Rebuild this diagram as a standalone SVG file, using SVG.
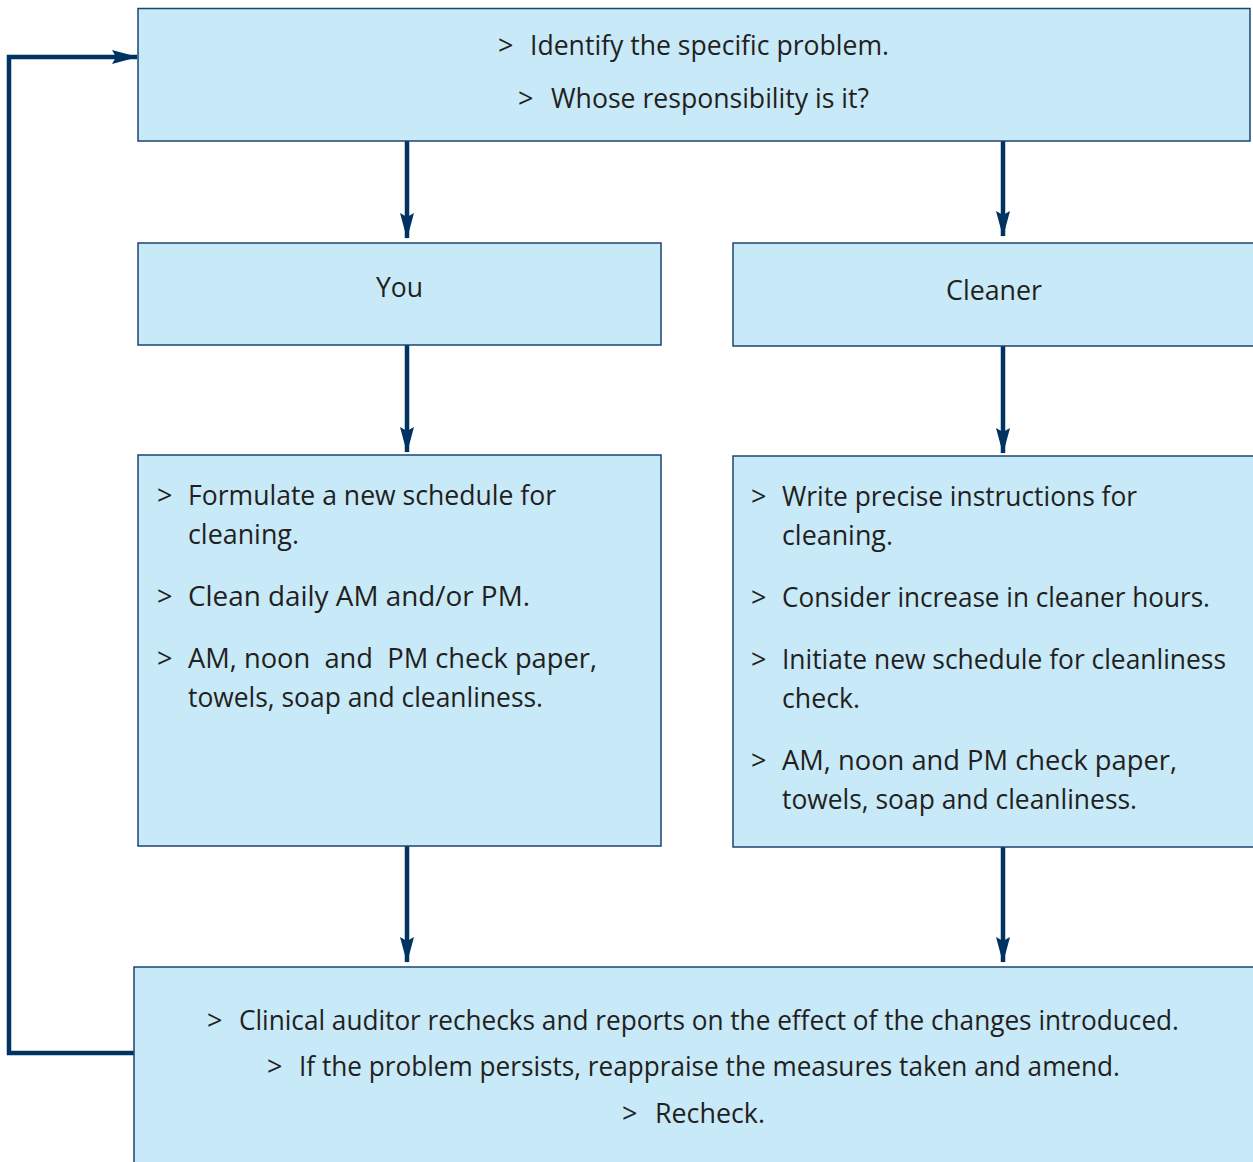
<svg xmlns="http://www.w3.org/2000/svg" width="1253" height="1162" viewBox="0 0 1253 1162">
<defs>
<style>
.box{fill:#c7e9f8;stroke:#1c4670;stroke-width:1.5}
.t{font-family:"Open Sans","Noto Sans",sans-serif;font-size:27px;fill:#231f20}
.c{fill:none;stroke:#003361;stroke-width:4.5}
.h{fill:#003361}
</style>
<marker id="ah" viewBox="0 0 26 14" refX="25" refY="7" markerWidth="26" markerHeight="14" markerUnits="userSpaceOnUse" orient="auto">
<path d="M0,0 L26,7 L0,14 L4,7 Z" class="h"/>
</marker>
</defs>
<rect width="1253" height="1162" fill="#ffffff"/>

<g id="connectors">
<line class="c" x1="407" y1="141" x2="407" y2="238" marker-end="url(#ah)"/>
<line class="c" x1="1003" y1="141" x2="1003" y2="236" marker-end="url(#ah)"/>
<line class="c" x1="407" y1="345" x2="407" y2="452" marker-end="url(#ah)"/>
<line class="c" x1="1003" y1="346" x2="1003" y2="453" marker-end="url(#ah)"/>
<line class="c" x1="407" y1="846" x2="407" y2="962" marker-end="url(#ah)"/>
<line class="c" x1="1003" y1="847" x2="1003" y2="962" marker-end="url(#ah)"/>
<polyline class="c" points="134,1053 9,1053 9,57 137,57" marker-end="url(#ah)"/>
</g>

<g id="top">
<rect class="box" x="138" y="8.5" width="1112" height="132.5"/>
<text class="t" x="498" y="55">&gt;</text>
<text class="t" x="530" y="55" textLength="359" lengthAdjust="spacingAndGlyphs">Identify the specific problem.</text>
<text class="t" x="518" y="108">&gt;</text>
<text class="t" x="551" y="108" textLength="318" lengthAdjust="spacingAndGlyphs">Whose responsibility is it?</text>
</g>

<g id="you">
<rect class="box" x="138" y="243" width="523" height="102"/>
<text class="t" x="376" y="297" textLength="47" lengthAdjust="spacingAndGlyphs">You</text>
</g>

<g id="cleaner">
<rect class="box" x="733" y="243" width="524" height="103"/>
<text class="t" x="946" y="300" textLength="96" lengthAdjust="spacingAndGlyphs">Cleaner</text>
</g>

<g id="you-actions">
<rect class="box" x="138" y="455" width="523" height="391"/>
<text class="t" x="157" y="505">&gt;</text>
<text class="t" x="188" y="505" textLength="368" lengthAdjust="spacingAndGlyphs">Formulate a new schedule for</text>
<text class="t" x="188" y="544" textLength="111" lengthAdjust="spacingAndGlyphs">cleaning.</text>
<text class="t" x="157" y="606">&gt;</text>
<text class="t" x="188" y="606" textLength="342" lengthAdjust="spacingAndGlyphs">Clean daily AM and/or PM.</text>
<text class="t" x="157" y="668">&gt;</text>
<text class="t" x="188" y="668" textLength="409" lengthAdjust="spacingAndGlyphs" xml:space="preserve">AM, noon  and  PM check paper,</text>
<text class="t" x="188" y="707" textLength="355" lengthAdjust="spacingAndGlyphs">towels, soap and cleanliness.</text>
</g>

<g id="cleaner-actions">
<rect class="box" x="733" y="456" width="524" height="391"/>
<text class="t" x="751" y="506">&gt;</text>
<text class="t" x="782" y="506" textLength="355" lengthAdjust="spacingAndGlyphs">Write precise instructions for</text>
<text class="t" x="782" y="545" textLength="111" lengthAdjust="spacingAndGlyphs">cleaning.</text>
<text class="t" x="751" y="607">&gt;</text>
<text class="t" x="782" y="607" textLength="428" lengthAdjust="spacingAndGlyphs">Consider increase in cleaner hours.</text>
<text class="t" x="751" y="669">&gt;</text>
<text class="t" x="782" y="669" textLength="444" lengthAdjust="spacingAndGlyphs">Initiate new schedule for cleanliness</text>
<text class="t" x="782" y="708" textLength="78" lengthAdjust="spacingAndGlyphs">check.</text>
<text class="t" x="751" y="770">&gt;</text>
<text class="t" x="782" y="770" textLength="395" lengthAdjust="spacingAndGlyphs">AM, noon and PM check paper,</text>
<text class="t" x="782" y="809" textLength="355" lengthAdjust="spacingAndGlyphs">towels, soap and cleanliness.</text>
</g>

<g id="review">
<rect class="box" x="134" y="967" width="1123" height="200"/>
<text class="t" x="207" y="1030">&gt;</text>
<text class="t" x="239" y="1030" textLength="940" lengthAdjust="spacingAndGlyphs">Clinical auditor rechecks and reports on the effect of the changes introduced.</text>
<text class="t" x="267" y="1076">&gt;</text>
<text class="t" x="299" y="1076" textLength="821" lengthAdjust="spacingAndGlyphs">If the problem persists, reappraise the measures taken and amend.</text>
<text class="t" x="622" y="1123">&gt;</text>
<text class="t" x="655" y="1123" textLength="110" lengthAdjust="spacingAndGlyphs">Recheck.</text>
</g>
</svg>
